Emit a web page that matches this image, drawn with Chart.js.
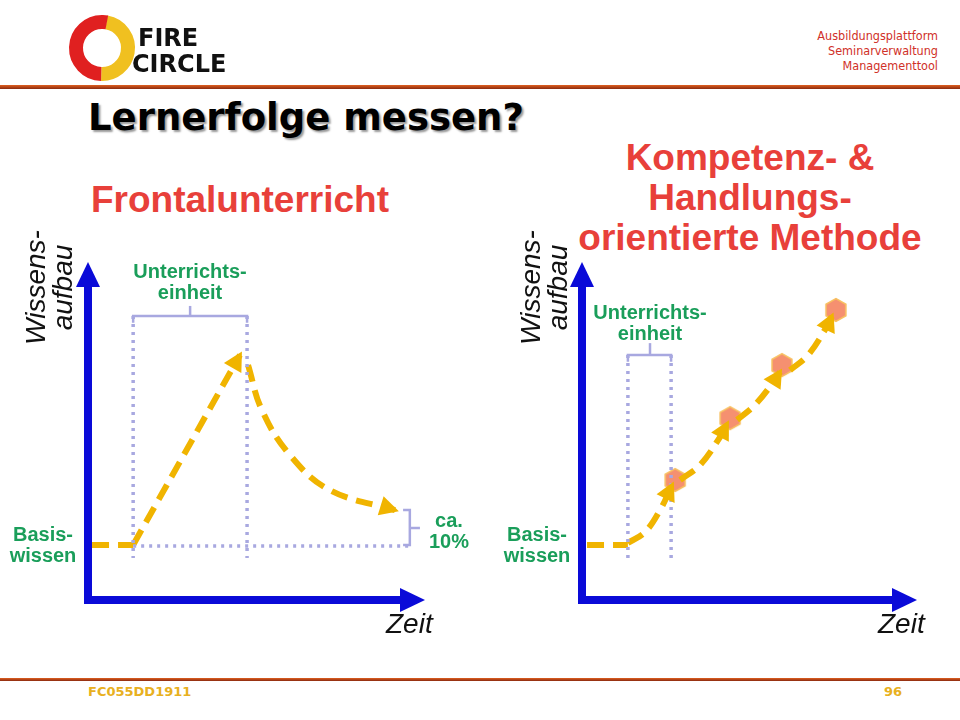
<!DOCTYPE html>
<html><head><meta charset="utf-8">
<script src="https://cdn.jsdelivr.net/npm/chart.js@4"></script>
<style>
body{margin:0;width:960px;height:720px;background:#fff;position:relative;overflow:hidden;font-family:"Liberation Sans",Arial,sans-serif}
.a{position:absolute}
.t{color:#e8403a;font-weight:bold;font-size:37px;text-align:center;line-height:40px}
.g{color:#1a9e5a;font-weight:bold;font-size:20px;line-height:21px;text-align:center}
.it{font-style:italic;font-size:28px;color:#111}
</style></head><body>
<canvas id="logo" class="a" style="left:60px;top:10px" width="210" height="75"></canvas>
<div class="a" style="right:22px;top:28px;text-align:right;color:#d03028;font-family:'DejaVu Sans Condensed','DejaVu Sans';font-size:12.5px;line-height:15px">Ausbildungsplattform<br>Seminarverwaltung<br>Managementtool</div>
<div class="a" style="left:0;top:85px;width:960px;height:4px;background:linear-gradient(#e06020,#8a2a10)"></div>
<div class="a" style="left:88px;top:96px;font-family:'DejaVu Sans';font-weight:bold;font-size:37px;color:#000;text-shadow:2px 2px 2px #999">Lernerfolge messen?</div>
<div class="a t" style="left:40px;top:180px;width:400px">Frontalunterricht</div>
<div class="a t" style="left:550px;top:138px;width:400px">Kompetenz- &amp;<br>Handlungs-<br>orientierte Methode</div>
<div class="a" style="left:0;top:678px;width:960px;height:3px;background:linear-gradient(#e06020,#8a2a10)"></div>
<div class="a" style="left:88px;top:684px;font-family:'DejaVu Sans';font-weight:bold;font-size:13px;color:#e8b020">FC055DD1911</div>
<div class="a" style="left:884px;top:684px;font-family:'DejaVu Sans';font-weight:bold;font-size:13px;color:#e8b020">96</div>

<div class="a" style="left:68px;top:242px;width:377px;height:378px"><canvas id="c1"></canvas></div>
<div class="a" style="left:562px;top:242px;width:375px;height:378px"><canvas id="c2"></canvas></div>

<div class="a it" style="left:22px;top:350px;transform:rotate(-90deg);transform-origin:0 0;line-height:27px;text-align:center;width:125px">Wissens-<br>aufbau</div>
<div class="a it" style="left:517px;top:350px;transform:rotate(-90deg);transform-origin:0 0;line-height:27px;text-align:center;width:125px">Wissens-<br>aufbau</div>
<div class="a it" style="left:386px;top:608px">Zeit</div>
<div class="a it" style="left:878px;top:608px">Zeit</div>
<div class="a g" style="left:115px;top:261px;width:150px">Unterrichts-<br>einheit</div>
<div class="a g" style="left:575px;top:302px;width:150px">Unterrichts-<br>einheit</div>
<div class="a g" style="left:0;top:524px;width:86px">Basis-<br>wissen</div>
<div class="a g" style="left:494px;top:524px;width:86px">Basis-<br>wissen</div>
<div class="a g" style="left:424px;top:510px;width:50px">ca.<br>10%</div>
<script>
// ---- data (units 0..100 on both axes) ----
const L_base = [{x:1.2,y:16.3},{x:13.4,y:16.3}];
const L_rise = [{x:13.4,y:16.3},{x:45.1,y:72.5}];
const L_decay = [{x:47.5,y:69.5},{x:51.6,y:56.2},{x:59.9,y:42.9},{x:71.8,y:32.5},{x:91.1,y:26.6}];
const L_vert1 = [{x:13.4,y:84.0},{x:13.4,y:12.4}];
const L_vert2 = [{x:47.2,y:84.0},{x:47.2,y:12.4}];
const L_hbase = [{x:13.4,y:16.0},{x:95.5,y:16.0}];
const L_brTop = [{x:13.4,y:82.0},{x:13.4,y:84.0},{x:47.2,y:84.0},{x:47.2,y:82.0}];
const L_brTick = [{x:30.3,y:84.0},{x:30.3,y:87.0}];
const L_brR = [{x:93.5,y:16.3},{x:95.5,y:16.3},{x:95.5,y:26.6},{x:93.5,y:26.6}];
const L_brRTick = [{x:95.5,y:21.3},{x:98.5,y:21.3}];

const R_base = [{x:1.5,y:16.3},{x:13.7,y:16.3}];
const R_seg1 = [{x:13.7,y:16.9},{x:18.8,y:20.1},{x:23.3,y:26.6},{x:26.9,y:34.0}];
const R_seg2 = [{x:29.3,y:35.5},{x:35.2,y:39.9},{x:41.2,y:48.2},{x:43.3,y:52.1}];
const R_seg3 = [{x:46.3,y:53.3},{x:51.6,y:57.7},{x:57.6,y:65.1},{x:59.1,y:67.5}];
const R_seg4 = [{x:62.1,y:68.0},{x:67.5,y:72.5},{x:73.4,y:81.4},{x:74.6,y:84.0}];
const R_hex = [{x:27.8,y:35.5},{x:44.2,y:53.8},{x:59.7,y:69.5},{x:75.8,y:85.8}];
const R_vert1 = [{x:13.7,y:72.5},{x:13.7,y:11.8}];
const R_vert2 = [{x:26.6,y:72.5},{x:26.6,y:11.8}];
const R_brTop = [{x:13.7,y:70.5},{x:13.7,y:72.5},{x:26.6,y:72.5},{x:26.6,y:70.5}];
const R_brTick = [{x:20.3,y:72.5},{x:20.3,y:76.0}];

const YEL='#f0b400', LAV='#a8a8e0', BLUE='#0a0ad8';
const hex=document.createElement('canvas');hex.width=hex.height=26;
{const h=hex.getContext('2d');h.beginPath();for(let i=0;i<6;i++){const a=Math.PI/3*i+Math.PI/6;h.lineTo(13+11.5*Math.cos(a),13+11.5*Math.sin(a));}
h.closePath();h.fillStyle='#f59070';h.fill();h.strokeStyle='#f8c060';h.lineWidth=1.5;h.stroke();}

function dash(d,arrow,tension){return {data:d,borderColor:YEL,borderWidth:6,borderDash:[17,9],pointRadius:0,tension:tension||0,arrow:!!arrow,fill:false};}
function dot(d){return {data:d,borderColor:LAV,borderWidth:3.5,borderDash:[3,5],pointRadius:0,fill:false};}
function sol(d){return {data:d,borderColor:LAV,borderWidth:2.5,pointRadius:0,fill:false};}

const axesPlugin={id:'ax',beforeDatasetsDraw(c){const a=c.chartArea,x=c.ctx;x.save();x.fillStyle=BLUE;x.strokeStyle=BLUE;x.lineWidth=8;
 x.beginPath();x.moveTo(a.left,a.bottom);x.lineTo(a.left,a.top+22);x.moveTo(a.left-4,a.bottom);x.lineTo(a.right-20,a.bottom);x.stroke();
 x.beginPath();x.moveTo(a.left,a.top);x.lineTo(a.left-12,a.top+25);x.lineTo(a.left+12,a.top+25);x.fill();
 x.beginPath();x.moveTo(a.right,a.bottom);x.lineTo(a.right-25,a.bottom-12);x.lineTo(a.right-25,a.bottom+12);x.fill();x.restore();},
 afterDatasetsDraw(c){const x=c.ctx;c.data.datasets.forEach((ds,i)=>{if(!ds.arrow)return;const m=c.getDatasetMeta(i).data;const p=m[m.length-1],q=m[m.length-2];
 const ang=Math.atan2(p.y-q.y,p.x-q.x);x.save();x.translate(p.x,p.y);x.rotate(ang);x.fillStyle=YEL;x.beginPath();x.moveTo(4,0);x.lineTo(-15,-10);x.lineTo(-15,10);x.fill();x.restore();});}};

function make(id,sets){new Chart(document.getElementById(id),{type:'line',data:{datasets:sets},plugins:[axesPlugin],
 options:{responsive:true,maintainAspectRatio:false,animation:false,layout:{padding:20},
 plugins:{legend:{display:false},tooltip:{enabled:false}},
 scales:{x:{type:'linear',min:0,max:100,display:false},y:{min:0,max:100,display:false}}}});}

make('c1',[dot(L_vert1),dot(L_vert2),dot(L_hbase),sol(L_brTop),sol(L_brTick),sol(L_brR),sol(L_brRTick),
 dash(L_base),dash(L_rise,true),dash(L_decay,true,0.4)]);
make('c2',[dot(R_vert1),dot(R_vert2),sol(R_brTop),sol(R_brTick),dash(R_base),
 dash(R_seg1,true,0.4),dash(R_seg2,true,0.4),dash(R_seg3,true,0.4),dash(R_seg4,true,0.4),
 {data:R_hex,showLine:false,pointStyle:hex,pointRadius:13,borderWidth:0}]);

const g=document.getElementById('logo').getContext('2d');
g.lineWidth=14;g.strokeStyle='#f0c020';g.beginPath();g.arc(42,38,26,-1.4,1.6);g.stroke();
g.strokeStyle='#e02020';g.beginPath();g.arc(42,38,26,1.6,4.9);g.stroke();
g.fillStyle='#111';g.font='bold 24px "DejaVu Sans"';g.fillText('FIRE',78,36);g.fillText('CIRCLE',72,62);
</script></body></html>
